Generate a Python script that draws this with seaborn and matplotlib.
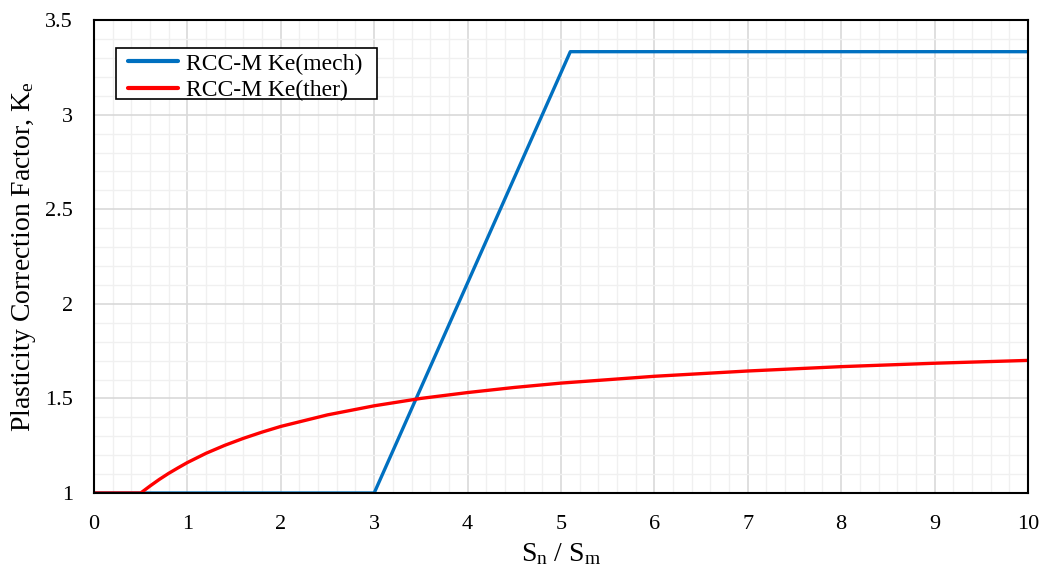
import numpy as np
import pandas as pd
import matplotlib.pyplot as plt
import seaborn as sns
from matplotlib.ticker import MultipleLocator
from matplotlib.patches import Rectangle

# Ke(mech): flat at 1, ramp from 3 to 5.1, then flat at 3.333
mech_x = [0, 3.0, 5.1, 10]
mech_y = [1.0, 1.0, 3.333, 3.333]

# Ke(ther)
ther_x = [0, 0.5, 0.6, 0.7, 0.8, 0.9, 1.0, 1.2, 1.4, 1.6, 1.8, 2.0, 2.5, 3.0,
          3.5, 4.0, 4.5, 5.0, 6.0, 7.0, 8.0, 9.0, 10.0]
ther_y = [1.0, 1.0, 1.037, 1.072, 1.104, 1.133, 1.161, 1.210, 1.252, 1.289, 1.322,
          1.352, 1.413, 1.461, 1.500, 1.531, 1.558, 1.581, 1.617, 1.645, 1.668,
          1.686, 1.701]

df_mech = pd.DataFrame({'x': mech_x, 'y': mech_y})
df_ther = pd.DataFrame({'x': ther_x, 'y': ther_y})

sns.set_style("white")
plt.rcParams['font.family'] = ['Liberation Serif', 'DejaVu Serif']
plt.rcParams['mathtext.fontset'] = 'custom'
plt.rcParams['mathtext.rm'] = 'Liberation Serif'
plt.rcParams['mathtext.it'] = 'Liberation Serif:italic'
plt.rcParams['text.color'] = 'black'
plt.rcParams['axes.labelcolor'] = 'black'
plt.rcParams['xtick.color'] = 'black'
plt.rcParams['ytick.color'] = 'black'

fig = plt.figure(figsize=(10.43, 5.74), dpi=100)
ax = fig.add_axes([0.0901, 0.1411, 0.8955, 0.8239])

sns.lineplot(data=df_mech, x='x', y='y', ax=ax, color='#0070C0', linewidth=2.4,
             label='RCC-M Ke(mech)', sort=False)
sns.lineplot(data=df_ther, x='x', y='y', ax=ax, color='#FF0000', linewidth=2.4,
             label='RCC-M Ke(ther)', sort=False)

ax.set_xlim(0, 10)
ax.set_ylim(1, 3.5)
ax.xaxis.set_major_locator(MultipleLocator(1))
ax.xaxis.set_minor_locator(MultipleLocator(0.2))
ax.yaxis.set_major_locator(MultipleLocator(0.5))
ax.yaxis.set_minor_locator(MultipleLocator(0.1))
ax.set_yticks([1, 1.5, 2, 2.5, 3, 3.5])
ax.set_yticklabels(['1', '1.5', '2', '2.5', '3', '3.5'])
ax.grid(which='major', color='#d9d9d9', linewidth=1.2)
ax.grid(which='minor', color='#f0f0f0', linewidth=1.0)
ax.set_axisbelow(True)
ax.tick_params(which='both', length=0, labelsize=16)
ax.tick_params(axis='x', pad=16)
ax.tick_params(axis='y', pad=15)

for s in ax.spines.values():
    s.set_color('black')
    s.set_linewidth(1.5)

ax.set_xlabel(r'S$_\mathrm{n}$ / S$_\mathrm{m}$', fontsize=20, labelpad=5)
ax.set_ylabel(r'Plasticity Correction Factor, K$_\mathrm{e}$', fontsize=20, labelpad=5)

# legend box drawn separately so the side padding can be wider than the top/bottom
ax.add_patch(Rectangle((0.0236, 0.833), 0.2794, 0.1078, transform=ax.transAxes,
                       facecolor='white', edgecolor='black', linewidth=1.2, zorder=4))
leg = ax.legend(loc='upper left', bbox_to_anchor=(0.0364, 0.93), fontsize=17,
                frameon=False, handlelength=2.12, handletextpad=0.34,
                borderpad=0, labelspacing=0.22, borderaxespad=0)
leg.set_zorder(5)
for h in leg.get_lines():
    h.set_linewidth(3)

fig.savefig('out.png', dpi=100)
